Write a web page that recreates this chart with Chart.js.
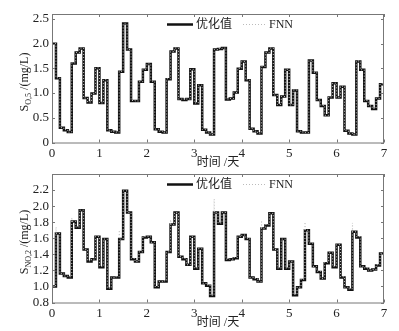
<!DOCTYPE html>
<html>
<head>
<meta charset="utf-8">
<script src="https://cdn.jsdelivr.net/npm/chart.js@4.4.0/dist/chart.umd.min.js"></script>
<style>
  body { margin: 0; background: #fff; }
  canvas { position: absolute; left: 0; }
  #c1 { top: 0; }
  #c2 { top: 160px; }
</style>
</head>
<body>
<canvas id="c1" width="399" height="171"></canvas>
<canvas id="c2" width="399" height="171"></canvas>
<script>
// ================= DATA =================
const days = [0, 1, 2, 3, 4, 5, 6, 7];
const stepsPerDay = 12; // one value every 2 h

const so5Ticks = [0, 0.5, 1.0, 1.5, 2.0, 2.5];
const so2Ticks = [0.8, 1.0, 1.2, 1.4, 1.6, 1.8, 2.0, 2.2];

const so5Opt = [
  2.00, 1.30, 0.30, 0.25, 0.21, 1.60, 1.82, 1.90, 0.90, 0.81, 0.99, 1.50,
  0.80, 1.26, 0.25, 0.22, 0.20, 1.43, 2.41, 1.88, 0.84, 0.84, 1.23, 1.47,
  1.59, 1.23, 0.27, 0.22, 0.20, 1.28, 1.84, 1.90, 0.88, 0.86, 0.88, 1.48,
  0.79, 1.16, 0.26, 0.20, 0.16, 1.88, 1.89, 1.91, 0.87, 0.89, 1.01, 1.49,
  1.64, 1.26, 0.28, 0.23, 0.18, 1.53, 1.82, 1.90, 0.96, 0.76, 0.93, 1.47,
  0.76, 1.05, 0.23, 0.20, 0.20, 1.66, 1.41, 0.86, 0.74, 0.55, 0.91, 1.20,
  0.91, 1.13, 0.24, 0.18, 0.16, 1.64, 1.47, 0.84, 0.74, 0.68, 0.89, 1.18
];
const so5Fnn = [
  2.00, 1.31, 0.30, 0.26, 0.21, 1.61, 1.82, 1.91, 0.90, 0.82, 0.99, 1.51,
  0.80, 1.27, 0.25, 0.22, 0.21, 1.44, 2.40, 1.88, 0.85, 0.84, 1.23, 1.48,
  1.59, 1.24, 0.27, 0.23, 0.20, 1.29, 1.84, 1.91, 0.88, 0.87, 0.88, 1.48,
  0.80, 1.16, 0.26, 0.21, 0.16, 1.88, 1.90, 1.91, 0.88, 0.89, 1.01, 1.50,
  1.64, 1.27, 0.28, 0.23, 0.19, 1.54, 1.82, 1.91, 0.96, 0.77, 0.93, 1.48,
  0.76, 1.06, 0.23, 0.21, 0.20, 1.66, 1.42, 0.86, 0.75, 0.55, 0.92, 1.20,
  0.91, 1.14, 0.24, 0.19, 0.16, 1.65, 1.47, 0.85, 0.74, 0.69, 0.89, 1.19
];

const so2Opt = [
  1.00, 1.66, 1.16, 1.13, 1.11, 1.81, 1.73, 1.95, 1.46, 1.31, 1.34, 1.62,
  1.24, 1.59, 0.97, 1.11, 1.11, 1.59, 2.19, 1.92, 1.34, 1.31, 1.43, 1.61,
  1.62, 1.55, 0.99, 1.06, 1.06, 1.43, 1.77, 1.92, 1.37, 1.34, 1.27, 1.62,
  1.22, 1.47, 1.04, 1.01, 0.88, 1.92, 1.78, 1.92, 1.33, 1.34, 1.35, 1.62,
  1.64, 1.59, 1.11, 1.09, 1.06, 1.72, 1.76, 1.91, 1.46, 1.22, 1.59, 1.22,
  1.31, 0.89, 0.99, 1.08, 1.70, 1.53, 1.25, 1.18, 1.10, 1.29, 1.42, 1.24,
  1.52, 1.11, 0.99, 0.96, 1.68, 1.61, 1.25, 1.22, 1.20, 1.21, 1.26, 1.41
];
const so2Fnn = [
  1.01, 1.66, 1.16, 1.13, 1.12, 1.81, 1.74, 1.95, 1.46, 1.32, 1.34, 1.62,
  1.25, 1.59, 0.98, 1.11, 1.12, 1.59, 2.19, 1.92, 1.35, 1.31, 1.43, 1.62,
  1.62, 1.55, 1.00, 1.06, 1.07, 1.43, 1.77, 1.92, 1.37, 1.35, 1.27, 1.62,
  1.23, 1.47, 1.04, 1.02, 0.89, 1.92, 1.79, 1.92, 1.34, 1.34, 1.36, 1.62,
  1.64, 1.60, 1.11, 1.10, 1.06, 1.72, 1.77, 1.91, 1.46, 1.23, 1.59, 1.23,
  1.31, 0.90, 0.99, 1.09, 1.70, 1.54, 1.25, 1.19, 1.10, 1.30, 1.42, 1.25,
  1.52, 1.12, 0.99, 0.97, 1.68, 1.62, 1.25, 1.23, 1.20, 1.21, 1.27, 1.41
];
// short FNN overshoots at some switching instants (step index, value)
const so2SpikeSteps = [1, 5, 17, 30, 41, 53, 64, 76];
const so2SpikeValues = [1.74, 1.86, 1.70, 1.83, 2.09, 1.82, 1.80, 1.79];

// ================= HELPERS =================
const serif = "'Liberation Serif', 'Noto Sans CJK SC', serif";

function stepPoints(vals, spikeSteps, spikeVals) {
  const pts = [];
  vals.forEach((v, i) => {
    const t = i / stepsPerDay;
    const k = spikeSteps ? spikeSteps.indexOf(i) : -1;
    if (k >= 0) {
      pts.push({ x: t, y: spikeVals[k] });
      pts.push({ x: t + 0.004, y: v });
    } else {
      pts.push({ x: t, y: v });
    }
  });
  pts.push({ x: days[days.length - 1], y: vals[vals.length - 1] });
  return pts;
}

// frame, inward ticks, legend, axis titles (MATLAB look)
const framePlugin = {
  id: "frame",
  afterDatasetsDraw(chart, args, opts) {
    const { ctx, chartArea: a, scales: { x, y } } = chart;
    ctx.save();
    ctx.strokeStyle = "#777";
    ctx.lineWidth = 1;
    ctx.strokeRect(a.left + 0.5, a.top + 0.5, a.right - a.left - 1, a.bottom - a.top);
    ctx.beginPath();
    x.ticks.forEach(t => {
      const px = Math.round(x.getPixelForValue(t.value)) + 0.5;
      ctx.moveTo(px, a.bottom); ctx.lineTo(px, a.bottom - 3);
      ctx.moveTo(px, a.top); ctx.lineTo(px, a.top + 3);
    });
    y.ticks.forEach(t => {
      const py = Math.round(y.getPixelForValue(t.value)) + 0.5;
      ctx.moveTo(a.left, py); ctx.lineTo(a.left + 3, py);
      ctx.moveTo(a.right, py); ctx.lineTo(a.right - 3, py);
    });
    ctx.stroke();

    // legend
    const ly = 24.5;
    ctx.strokeStyle = "#111";
    ctx.lineWidth = 2.5;
    ctx.beginPath(); ctx.moveTo(167, ly); ctx.lineTo(193, ly); ctx.stroke();
    ctx.strokeStyle = "#bbb";
    ctx.lineWidth = 1;
    ctx.setLineDash([1, 2]);
    ctx.beginPath(); ctx.moveTo(243, ly); ctx.lineTo(266, ly); ctx.stroke();
    ctx.setLineDash([]);
    ctx.fillStyle = "#222";
    ctx.textBaseline = "middle";
    ctx.font = "12px " + serif;
    ctx.fillText("优化值", 196, ly);
    ctx.fillText("FNN", 269, ly);

    // x axis title
    ctx.textAlign = "center";
    ctx.fillText("时间 /天", (a.left + a.right) / 2, 162.5);

    // y axis label with subscript
    ctx.translate(24, 82);
    ctx.rotate(-Math.PI / 2);
    const big = "12px " + serif, small = "8px " + serif;
    ctx.font = big;
    const w1 = ctx.measureText("S").width;
    const w3 = ctx.measureText(" /(mg/L)").width;
    ctx.font = small;
    const w2 = ctx.measureText(opts.sub).width;
    let px = -(w1 + w2 + w3) / 2;
    ctx.textAlign = "left";
    ctx.textBaseline = "alphabetic";
    ctx.font = big;
    ctx.fillText("S", px, 4);
    px += w1;
    ctx.font = small;
    ctx.fillText(opts.sub, px, 7);
    px += w2;
    ctx.font = big;
    ctx.fillText(" /(mg/L)", px, 4);
    ctx.restore();
  }
};

function makeChart(id, optVals, fnnVals, spikeSteps, spikeVals, yMin, yMax, yTicks, sub) {
  return new Chart(document.getElementById(id), {
    type: "line",
    data: {
      datasets: [
        {
          label: "优化值",
          data: stepPoints(optVals),
          stepped: true,
          borderColor: "#111",
          borderWidth: 2.5,
          pointRadius: 0,
          order: 2
        },
        {
          label: "FNN",
          data: stepPoints(fnnVals, spikeSteps, spikeVals),
          stepped: true,
          borderColor: "#c8c8c8",
          borderWidth: 1,
          borderDash: [1, 2],
          pointRadius: 0,
          order: 1
        }
      ]
    },
    options: {
      responsive: false,
      animation: false,
      layout: { padding: { left: 0, right: 15, top: 14, bottom: 0 } },
      plugins: {
        legend: { display: false },
        tooltip: { enabled: false },
        frame: { sub: sub }
      },
      scales: {
        x: {
          type: "linear",
          min: days[0],
          max: days[days.length - 1],
          afterBuildTicks: s => { s.ticks = days.map(v => ({ value: v })); },
          afterFit: s => { s.height = 28.5; },
          grid: { display: false, drawTicks: false },
          border: { display: false },
          ticks: {
            font: { family: serif, size: 13 },
            color: "#222",
            padding: 3,
            maxRotation: 0,
            autoSkip: false,
            callback: v => String(v)
          }
        },
        y: {
          min: yMin,
          max: yMax,
          afterBuildTicks: s => { s.ticks = yTicks.map(v => ({ value: v })); },
          afterFit: s => { s.width = 52; },
          grid: { display: false, drawTicks: false },
          border: { display: false },
          ticks: {
            font: { family: serif, size: 13 },
            color: "#222",
            padding: 3,
            autoSkip: false,
            callback: v => v === 0 ? "0" : v.toFixed(1)
          }
        }
      }
    },
    plugins: [framePlugin]
  });
}

makeChart("c1", so5Opt, so5Fnn, null, null, 0, 2.6, so5Ticks, "O,5");
makeChart("c2", so2Opt, so2Fnn, so2SpikeSteps, so2SpikeValues, 0.8, 2.4, so2Ticks, "NO,2");
</script>
</body>
</html>
